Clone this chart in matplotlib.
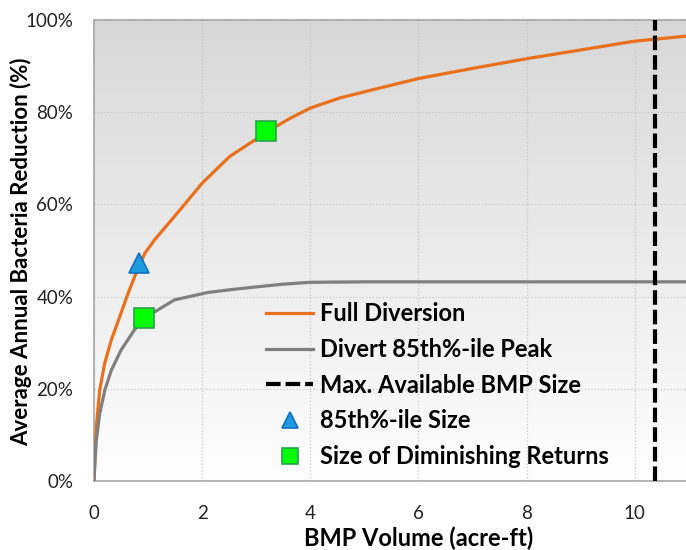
import numpy as np
import matplotlib.pyplot as plt
from matplotlib.colors import LinearSegmentedColormap

# === DATA ===
full_x = [0, 0.02, 0.043, 0.105, 0.197, 0.32, 0.475, 0.63, 0.75, 0.94, 1.12,
          1.59, 2.0, 2.51, 2.98, 3.19, 3.6, 4.0, 4.55, 5.2, 6.0, 7.0, 8.0, 9.0, 10.0, 10.95]
full_y = [0, 6, 11.8, 19.7, 25.5, 30.6, 35.6, 40.7, 44.3, 49.4, 52.3,
          58.8, 64.6, 70.4, 74.0, 75.7, 78.5, 80.9, 83.1, 85.0, 87.3, 89.5, 91.6, 93.5, 95.4, 96.5]

peak_x = [0, 0.02, 0.043, 0.105, 0.2, 0.32, 0.5, 0.75, 0.91, 1.18, 1.49, 2.11,
          2.6, 3.0, 3.5, 4.0, 5.0, 7.0, 9.0, 10.95]
peak_y = [0, 4.5, 8.8, 14.6, 19.7, 24.0, 28.4, 32.8, 35.2, 37.1, 39.3, 40.9,
          41.6, 42.1, 42.7, 43.1, 43.2, 43.2, 43.2, 43.2]

max_bmp_x = 10.38
pct85_x, pct85_y = [0.83], [47.3]
dim_x, dim_y = [0.92, 3.19], [35.4, 76.0]

xticks = [0, 2, 4, 6, 8, 10]
yticks = [0, 20, 40, 60, 80, 100]

plt.rcParams['font.family'] = ['Lato', 'DejaVu Sans']

fig = plt.figure(figsize=(6.86, 5.5), dpi=100)
ax = fig.add_axes([94 / 686, 1 - 481 / 550, 1 - 94 / 686, 461 / 550])
ax.set_xlim(0, 10.95)
ax.set_ylim(0, 100)

# gradient fill: light gray at top fading to white at bottom
bg = LinearSegmentedColormap.from_list('bg', ['#fefefe', '#d8d8d8'])
grad = np.linspace(0, 1, 256).reshape(-1, 1)
ax.imshow(grad, extent=[0, 10.95, 0, 100], aspect='auto', cmap=bg,
          origin='lower', zorder=0)

ax.grid(color='#c8c8c8', linestyle=':', linewidth=0.9, zorder=0.5)
ax.set_axisbelow(True)

ax.plot(full_x, full_y, color='#e8701c', lw=2.3, label='Full Diversion',
        zorder=3, solid_joinstyle='round')
ax.plot(peak_x, peak_y, color='#7f7f7f', lw=2.3, label='Divert 85th%-ile Peak',
        zorder=3, solid_joinstyle='round')
ax.axvline(max_bmp_x, color='black', lw=3, ls=(0, (3.5, 1.2)),
           label='Max. Available BMP Size', zorder=3)
ax.plot(pct85_x, pct85_y, ls='none', marker='^', ms=15, mfc='#1e9be0', mec='#1070c0',
        mew=1.2, label='85th%-ile Size', zorder=4)
ax.plot(dim_x, dim_y, ls='none', marker='s', ms=15, mfc='#00ff00', mec='#2ca050',
        mew=1.2, label='Size of Diminishing Returns', zorder=4)

ax.set_xticks(xticks)
ax.set_yticks(yticks)
ax.set_yticklabels([f'{v}%' for v in yticks])
ax.tick_params(length=0, labelsize=13.5, colors='#222222')
ax.tick_params(axis='y', pad=15)
ax.tick_params(axis='x', pad=17)

# axis titles placed as figure text to match the original layout
fig.text(419 / 686, 1 - 538 / 550, 'BMP Volume (acre-ft)', fontsize=17,
         weight='bold', ha='center', va='center')
fig.text(21 / 686, 1 - 252 / 550, 'Average Annual Bacteria Reduction (%)', fontsize=16,
         weight='bold', ha='center', va='center', rotation=90)

for side in ['left', 'bottom', 'top']:
    ax.spines[side].set_color('#a6a6a6')
    ax.spines[side].set_linewidth(1.2)
ax.spines['right'].set_visible(False)

ax.legend(loc='lower left', bbox_to_anchor=(0.29, 0.028), frameon=False,
          prop={'weight': 'bold', 'size': 17}, handlelength=2.02, handletextpad=0.3,
          labelspacing=0.54, borderpad=0, borderaxespad=0, markerscale=0.75)

fig.savefig('out.png', dpi=100)
